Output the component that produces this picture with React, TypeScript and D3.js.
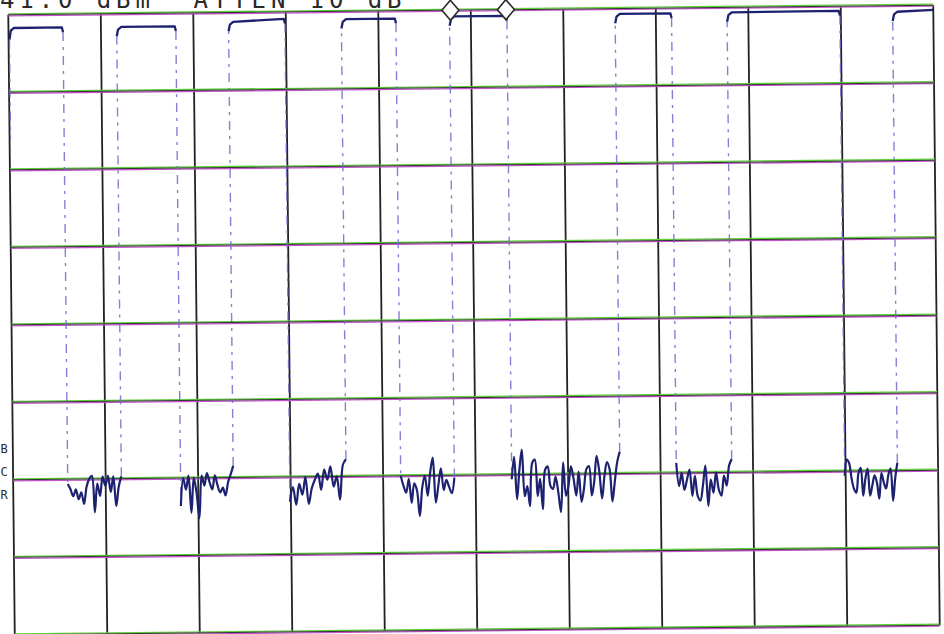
import React from "react";
import * as d3 from "d3";

// ---- data ----
const refLevel = 41; // dBm at top graticule
const dbPerDiv = 10;
const divsY = 8;
const divsX = 10;
const headerText = "41.0 dBm  ATTEN 10 dB";
const sideLabels = ["B", "C", "R"];

// pulse "on" segments (x in divisions)
const highStart = [0, 1.17, 2.38, 3.6, 4.77, 6.56, 7.77, 9.56];
const highEnd = [0.59, 1.81, 2.99, 4.19, 5.39, 7.17, 8.99, 10];
const highLevelStart = [39.3, 39.3, 39.8, 40.0, 40.2, 40.3, 40.35, 40.2];
const highLevelEnd = [39.3, 39.3, 40.1, 40.0, 40.2, 40.3, 40.4, 40.4];

// "off" noise floor readings (dBm) between pulses
const noise1 = [-19.6, -20.3, -21.2, -20.3, -21.6, -20.7, -22.2, -20.0, -19.0, -18.6, -23.3, -19.6, -21.2, -18.7, -19.9, -18.6, -20.7, -18.7, -22.5, -20.0, -18.7];
const noise2 = [-22.6, -19.0, -20.5, -18.7, -23.5, -19.0, -20.9, -24.2, -18.7, -20.0, -18.4, -19.6, -20.5, -18.7, -20.0, -20.9, -20.3, -21.3, -19.6, -18.6, -17.5];
const noise3 = [-22.2, -20.3, -22.6, -19.9, -21.3, -19.0, -22.5, -20.5, -19.4, -18.6, -20.7, -18.1, -19.4, -17.7, -20.3, -19.0, -22.0, -17.5, -16.8];
const noise4 = [-19.0, -20.3, -21.2, -19.4, -22.5, -20.0, -20.9, -24.2, -20.5, -19.0, -21.6, -18.6, -16.7, -22.5, -20.3, -18.1, -20.9, -19.6, -20.5, -21.3, -19.3];
const noise5 = [-19.6, -16.7, -22.2, -18.4, -15.8, -21.8, -20.5, -23.1, -17.5, -17.1, -21.8, -19.6, -23.5, -18.4, -18.0, -20.5, -20.9, -19.3, -21.3, -23.9, -17.5, -21.8, -20.5, -18.0, -19.6, -21.8, -18.7, -22.6, -20.9, -18.4, -18.0, -21.8, -20.0, -16.7, -18.7, -22.2, -19.3, -17.5, -18.4, -22.6, -20.0, -17.5, -16.2];
const noise6 = [-17.7, -20.7, -19.0, -21.2, -19.9, -18.6, -22.0, -19.4, -22.0, -22.6, -20.7, -18.1, -23.3, -19.9, -21.6, -19.0, -21.2, -22.0, -19.4, -20.7, -18.1, -17.3];
const noise7 = [-19.6, -17.5, -18.0, -20.0, -21.3, -21.8, -19.3, -18.6, -22.2, -20.0, -18.7, -22.2, -20.9, -19.6, -20.5, -22.6, -19.3, -20.5, -21.3, -19.6, -18.7, -22.9, -20.0, -18.0];
const noiseSegments = [noise1, noise2, noise3, noise4, noise5, noise6, noise7];

const markerX = [4.78, 5.38];

export default function App() {
  const W = 944;
  const H = 634;
  const left = 11.5, right = 936.5, top = 10, bottom = 630;
  const cx = (left + right) / 2, cy = (top + bottom) / 2;

  const x = d3.scaleLinear().domain([0, divsX]).range([left, right]);
  const y = d3.scaleLinear().domain([refLevel, refLevel - dbPerDiv * divsY]).range([top, bottom]);
  const line = d3.line<[number, number]>().x((d) => x(d[0])).y((d) => y(d[1]));
  const noiseLine = d3
    .line<[number, number]>()
    .x((d) => x(d[0]))
    .y((d) => y(d[1]))
    .curve(d3.curveCatmullRom.alpha(0.5));

  const hTicks = d3.range(0, divsY + 1).map((k) => refLevel - k * dbPerDiv);
  const vTicks = d3.range(0, divsX + 1);

  const traceColor = "#1d2270";
  const edgeColor = "#6f6bd0";

  const highPaths = highStart.map((s, i) => {
    const e = highEnd[i];
    const l0 = highLevelStart[i];
    const l1 = highLevelEnd[i];
    const pts: [number, number][] = [];
    if (s > 0) {
      pts.push([s, l0 - 1.2], [s + 0.015, l0 - 0.35], [s + 0.05, l0]);
    } else {
      pts.push([s + 0.01, l0 - 1.5], [s + 0.025, l0 - 0.35], [s + 0.06, l0]);
    }
    if (e < divsX) {
      pts.push([e - 0.012, l1], [e, l1 - 0.6]);
    } else {
      pts.push([e, l1]);
    }
    return line(pts) as string;
  });

  const noisePaths = noiseSegments.map((vals, i) => {
    const s = highEnd[i];
    const e = highStart[i + 1];
    const pts: [number, number][] = vals.map((v, k) => [s + ((e - s) * k) / (vals.length - 1), v]);
    return noiseLine(pts) as string;
  });

  const edges: { xv: number; y0: number; y1: number }[] = [];
  edges.push({ xv: 0.01, y0: highLevelStart[0] - 1.5, y1: 25 });
  noiseSegments.forEach((vals, i) => {
    edges.push({ xv: highEnd[i], y0: highLevelEnd[i] - 0.6, y1: vals[0] });
    edges.push({ xv: highStart[i + 1], y0: vals[vals.length - 1], y1: highLevelStart[i + 1] - 1.2 });
  });

  return (
    <svg
      width={W}
      height={H}
      viewBox={`0 0 ${W} ${H}`}
      style={{ position: "fixed", left: 0, top: 0, background: "#ffffff" }}
    >
      <rect x={0} y={0} width={W} height={H} fill="#ffffff" />
      <text
        x={0}
        y={8}
        fontFamily="'DejaVu Sans Mono', monospace"
        fontSize={24}
        letterSpacing={4.9}
        fill="#2a2a2a"
        style={{ whiteSpace: "pre" }}
      >
        {headerText}
      </text>
      {sideLabels.map((t, i) => (
        <text
          key={t}
          x={0.5}
          y={453 + i * 23}
          fontFamily="'DejaVu Sans Mono', monospace"
          fontSize={12}
          fill="#2a2a2a"
        >
          {t}
        </text>
      ))}
      <g transform={`rotate(-0.6 ${cx} ${cy})`}>
        {vTicks.map((k) => (
          <line
            key={"v" + k}
            x1={x(k)}
            x2={x(k)}
            y1={y(refLevel)}
            y2={y(refLevel - dbPerDiv * divsY)}
            stroke="#222222"
            strokeWidth={1.8}
          />
        ))}
        {hTicks.map((v) => (
          <g key={"h" + v}>
            <line x1={x(0)} x2={x(divsX)} y1={y(v) - 1} y2={y(v) - 1} stroke="#5fcf3a" strokeWidth={1.3} />
            <line x1={x(0)} x2={x(divsX)} y1={y(v) + 1} y2={y(v) + 1} stroke="#c552cc" strokeWidth={1.3} />
            <line x1={x(0)} x2={x(divsX)} y1={y(v)} y2={y(v)} stroke="#2f352f" strokeWidth={1} />
          </g>
        ))}
        {edges.map((ed, i) => (
          <line
            key={"e" + i}
            x1={x(ed.xv)}
            x2={x(ed.xv)}
            y1={y(ed.y0)}
            y2={y(ed.y1)}
            stroke={edgeColor}
            strokeWidth={1.4}
            strokeDasharray="9 6 3 6"
            opacity={0.85}
          />
        ))}
        {highPaths.map((d, i) => (
          <path key={"hp" + i} d={d} fill="none" stroke={traceColor} strokeWidth={2.3} strokeLinejoin="round" />
        ))}
        {noisePaths.map((d, i) => (
          <path key={"np" + i} d={d} fill="none" stroke={traceColor} strokeWidth={2.2} strokeLinejoin="round" />
        ))}
        {markerX.map((m, i) => {
          const mx = x(m);
          const my = y(refLevel);
          return (
            <path
              key={"m" + i}
              d={`M${mx},${my - 10} L${mx + 8.5},${my} L${mx},${my + 10} L${mx - 8.5},${my} Z`}
              fill="#ffffff"
              stroke="#2a2a2a"
              strokeWidth={1.6}
            />
          );
        })}
      </g>
    </svg>
  );
}
